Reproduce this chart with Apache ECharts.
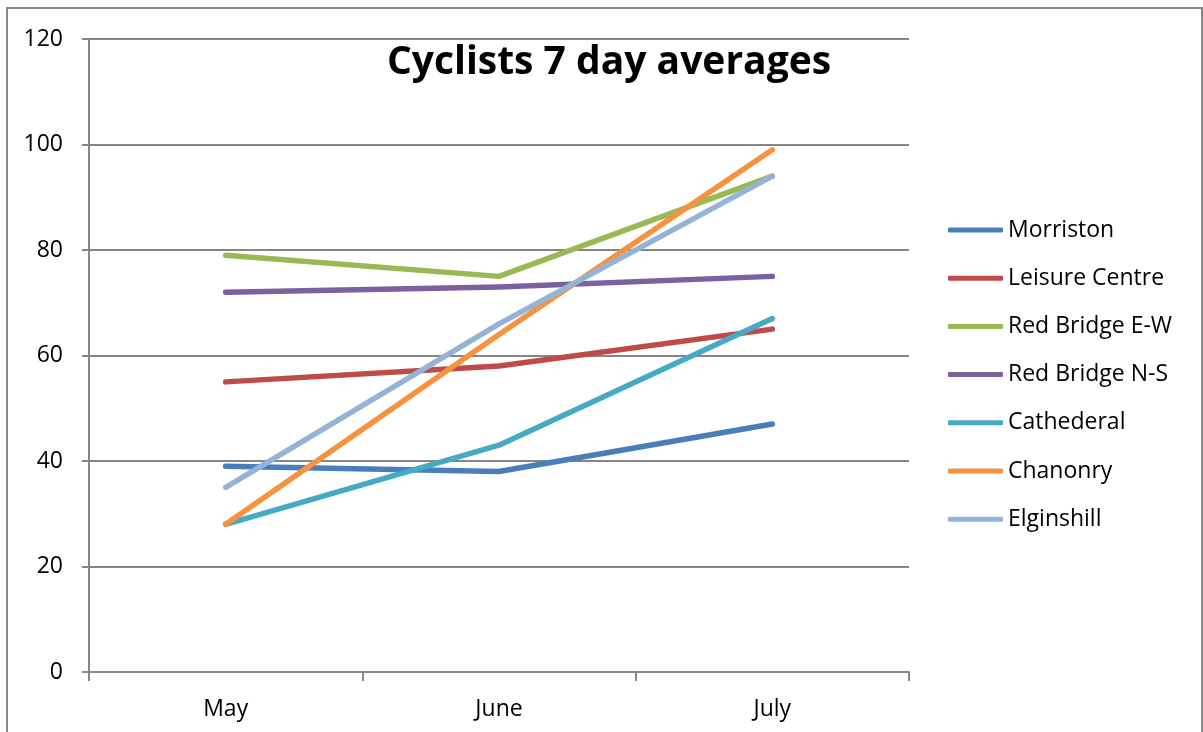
<!DOCTYPE html>
<html>
<head>
<meta charset="utf-8">
<script src="https://cdn.jsdelivr.net/npm/echarts@6/dist/echarts.min.js"></script>
<style>
html,body{margin:0;padding:0;background:#fff;}
#chart{width:1203px;height:732px;}
</style>
</head>
<body>
<div id="chart"></div>
<script>
const categories = ["May", "June", "July"];
const morriston = [39, 38, 47];
const leisureCentre = [55, 58, 65];
const redBridgeEW = [79, 75, 94];
const redBridgeNS = [72, 73, 75];
const cathederal = [28, 43, 67];
const chanonry = [28, 64, 99];
const elginshill = [35, 66, 94];
const seriesNames = ["Morriston", "Leisure Centre", "Red Bridge E-W", "Red Bridge N-S", "Cathederal", "Chanonry", "Elginshill"];
const seriesData = [morriston, leisureCentre, redBridgeEW, redBridgeNS, cathederal, chanonry, elginshill];
const colors = ["#4A7EBB", "#BE4B48", "#98B954", "#7D60A0", "#46AAC5", "#F69240", "#95B3D7"];
const yTicks = { min: 0, max: 120, interval: 20 };

const FONT = "'Open Sans', sans-serif";
const chart = echarts.init(document.getElementById('chart'), null, { renderer: 'canvas' });

chart.setOption({
  backgroundColor: '#ffffff',
  animation: false,
  color: colors,
  title: {
    text: 'Cyclists 7 day averages',
    left: 604,
    textAlign: 'center',
    top: 38,
    textStyle: { fontFamily: FONT, fontSize: 39, fontWeight: 'bold', color: '#000' }
  },
  graphic: [{
    type: 'rect',
    shape: { x: 7, y: 8, width: 1195, height: 800 },
    style: { fill: 'none', stroke: '#898989', lineWidth: 2 },
    silent: true,
    z: -1
  }],
  legend: {
    orient: 'vertical',
    left: 943,
    top: 213,
    itemWidth: 55,
    itemHeight: 5,
    itemGap: 24.2,
    icon: 'roundRect',
    data: seriesNames,
    textStyle: { fontFamily: FONT, fontSize: 23, color: '#000', lineHeight: 24, padding: [0, 0, 0, 0] }
  },
  grid: { left: 89, right: 294, top: 39, bottom: 60, containLabel: false },
  xAxis: {
    type: 'category',
    data: categories,
    boundaryGap: true,
    axisLine: { lineStyle: { color: '#868686', width: 2 } },
    axisTick: { show: true, length: 9, alignWithLabel: false, lineStyle: { color: '#868686', width: 2 } },
    axisLabel: { fontFamily: FONT, fontSize: 23, color: '#000', margin: 26 },
    splitLine: { show: false }
  },
  yAxis: {
    type: 'value',
    min: yTicks.min,
    max: yTicks.max,
    interval: yTicks.interval,
    axisLine: { show: true, lineStyle: { color: '#868686', width: 2 } },
    axisTick: { show: true, length: 7, lineStyle: { color: '#868686', width: 2 } },
    axisLabel: { fontFamily: FONT, fontSize: 23, color: '#000', margin: 26 },
    splitLine: { show: true, lineStyle: { color: '#868686', width: 2 } }
  },
  series: seriesNames.map((name, i) => ({
    name: name,
    type: 'line',
    data: seriesData[i],
    symbol: 'none',
    showSymbol: false,
    lineStyle: { width: 5.5, color: colors[i], cap: 'round', join: 'round' },
    itemStyle: { color: colors[i] }
  }))
});
</script>
</body>
</html>
